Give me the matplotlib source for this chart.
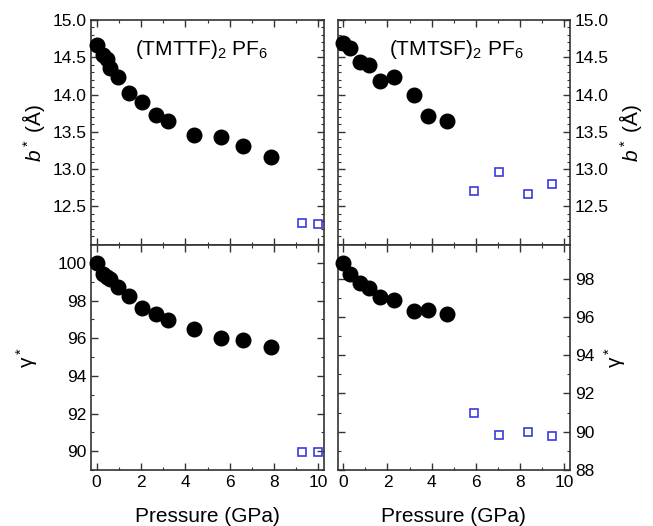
import numpy as np
import matplotlib
matplotlib.use('Agg')
import matplotlib.pyplot as plt
from matplotlib.ticker import MultipleLocator

plt.rcParams['font.family'] = ['Liberation Sans', 'DejaVu Sans']
plt.rcParams['mathtext.fontset'] = 'custom'
plt.rcParams['mathtext.rm'] = 'Liberation Sans'
plt.rcParams['mathtext.it'] = 'Liberation Sans:italic'
plt.rcParams['mathtext.bf'] = 'Liberation Sans:bold'

# (TMTTF)2PF6
p_ttf = [0.0, 0.31, 0.45, 0.6, 0.97, 1.47, 2.05, 2.68, 3.21, 4.41, 5.59, 6.62, 7.88]
b_ttf = [14.66, 14.53, 14.47, 14.36, 14.23, 14.02, 13.90, 13.73, 13.65, 13.45, 13.43, 13.31, 13.16]
g_ttf = [100.0, 99.40, 99.26, 99.12, 98.73, 98.22, 97.60, 97.28, 96.98, 96.48, 96.02, 95.88, 95.54]
p_ttf_sq = [9.27, 10.0]
b_ttf_sq = [12.28, 12.26]
g_ttf_sq = [89.97, 89.97]

# (TMTSF)2PF6
p_tsf = [0.0, 0.30, 0.74, 1.16, 1.68, 2.29, 3.18, 3.85, 4.70]
b_tsf = [14.69, 14.62, 14.43, 14.40, 14.18, 14.23, 13.99, 13.71, 13.65]
g_tsf = [98.82, 98.26, 97.74, 97.51, 97.01, 96.87, 96.31, 96.38, 96.14]
p_tsf_sq = [5.89, 7.02, 8.36, 9.43]
b_tsf_sq = [12.71, 12.96, 12.66, 12.80]
g_tsf_sq = [90.96, 89.83, 89.97, 89.77]

W, H = 653, 526
fig = plt.figure(figsize=(W/100, H/100), dpi=100)

def box(x0, x1, y0, y1):
    return [x0/W, 1 - y1/H, (x1-x0)/W, (y1-y0)/H]

ax1 = fig.add_axes(box(91, 324, 20, 245))
ax2 = fig.add_axes(box(337.7, 570, 20, 245))
ax3 = fig.add_axes(box(91, 324, 245, 470))
ax4 = fig.add_axes(box(337.7, 570, 245, 470))

blue = '#3a3ae0'
edge = '#333333'

def dots(ax, x, y, xs, ys):
    ax.plot(x, y, 'o', color='black', markersize=10.5, clip_on=False, zorder=3)
    ax.plot(xs, ys, 's', mfc='none', mec=blue, mew=1.2, markersize=6, clip_on=False, zorder=3)

dots(ax1, p_ttf, b_ttf, p_ttf_sq, b_ttf_sq)
dots(ax2, p_tsf, b_tsf, p_tsf_sq, b_tsf_sq)
dots(ax3, p_ttf, g_ttf, p_ttf_sq, g_ttf_sq)
dots(ax4, p_tsf, g_tsf, p_tsf_sq, g_tsf_sq)

for ax in [ax1, ax2, ax3, ax4]:
    ax.set_xlim(-0.25, 10.25)
    ax.xaxis.set_major_locator(MultipleLocator(2))
    ax.xaxis.set_minor_locator(MultipleLocator(1))
    ax.tick_params(which='both', direction='in', top=True, right=True, left=True, bottom=True,
                   color=edge, labelsize=12.5)
    ax.tick_params(which='major', length=5, width=1)
    ax.tick_params(which='minor', length=2.5, width=0.8)
    for s in ax.spines.values():
        s.set_color(edge)
        s.set_linewidth(1.2)

for ax in [ax1, ax2]:
    ax.set_ylim(11.98, 15.0)
    ax.yaxis.set_major_locator(MultipleLocator(0.5))
    ax.yaxis.set_minor_locator(MultipleLocator(0.1))
    ax.tick_params(labelbottom=False)
    ax.set_yticks([12.5, 13.0, 13.5, 14.0, 14.5, 15.0])

ax3.set_ylim(89.0, 100.95)
ax4.set_ylim(88.0, 99.75)
for ax in [ax3, ax4]:
    ax.yaxis.set_major_locator(MultipleLocator(2))
    ax.yaxis.set_minor_locator(MultipleLocator(1))
    ax.set_xlabel('Pressure (GPa)', fontsize=15, labelpad=12)

for ax in [ax2, ax4]:
    ax.yaxis.tick_right()
    ax.yaxis.set_label_position('right')
    ax.tick_params(which='both', left=True, right=True, labelleft=False, labelright=True)

ax1.set_ylabel(r'$b^*$ (Å)', fontsize=15, labelpad=4)
ax2.set_ylabel(r'$b^*$ (Å)', fontsize=15, labelpad=6)
ax3.set_ylabel(r'$\mathrm{\gamma}^*$', fontsize=15, labelpad=12)
ax4.set_ylabel(r'$\mathrm{\gamma}^*$', fontsize=15, labelpad=6)

ax1.text(0.476, 0.87, r'(TMTTF)$_2$ PF$_6$', transform=ax1.transAxes, fontsize=15, ha='center', va='center')
ax2.text(0.512, 0.87, r'(TMTSF)$_2$ PF$_6$', transform=ax2.transAxes, fontsize=15, ha='center', va='center')

fig.savefig('out.png', dpi=100)
